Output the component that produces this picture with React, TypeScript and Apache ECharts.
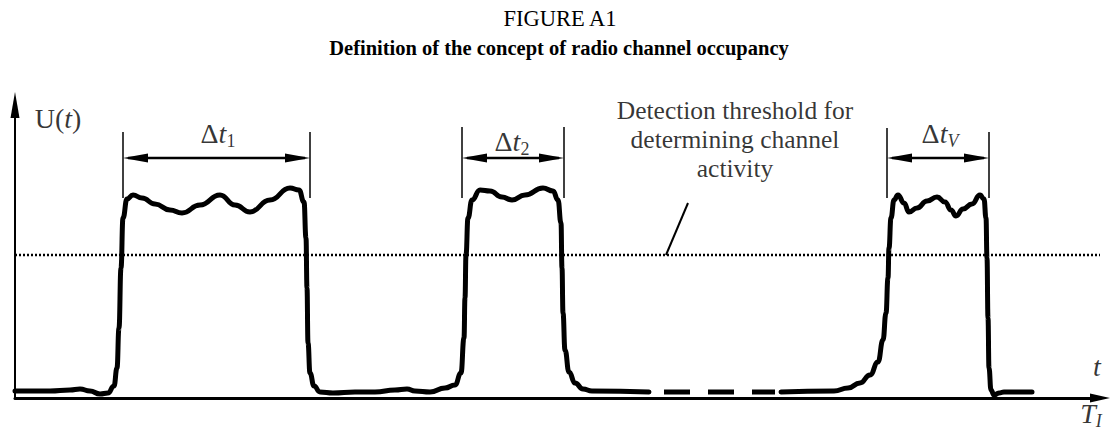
import React, { useEffect, useRef } from "react";
import * as echarts from "echarts";

const SERIF = "Liberation Serif, Times New Roman, serif";

// time (t) / amplitude U(t) samples of the received signal, arbitrary units
const signalBeforeGap: [number, number][] = [
  [0, 7], [35, 7], [55, 8], [65, 9], [75, 7], [85, 4], [93, 5], [99, 12], [102, 30],
  [104, 70], [106, 130], [108, 180], [112, 199], [118, 203], [127, 200], [140, 194],
  [155, 188], [167, 185], [185, 193], [205, 203], [220, 193], [235, 186], [255, 198],
  [275, 210], [284, 208], [289, 196], [291, 160], [292, 110], [293, 55], [295, 25],
  [299, 12], [305, 6], [318, 5], [340, 6], [360, 6], [380, 8], [392, 9], [400, 7],
  [415, 6], [430, 10], [440, 13], [446, 25], [449, 60], [450, 100], [451, 143],
  [453, 180], [457, 198], [465, 208], [475, 207], [487, 201], [497, 198], [510, 203],
  [528, 210], [538, 207], [543, 198], [546, 175], [547, 130], [548, 85], [550, 48],
  [554, 26], [560, 15], [568, 9], [577, 7], [634, 6],
];
const signalGap: [number, number][] = [[649, 6], [760, 6]];
const signalAfterGap: [number, number][] = [
  [766, 6], [819, 7], [833, 10], [845, 15], [855, 23], [863, 36], [868, 58], [871, 85],
  [873, 120], [874, 150], [876, 180], [879, 198], [883, 203], [889, 195], [894, 186],
  [902, 190], [912, 197], [922, 201], [930, 196], [936, 188], [941, 182], [948, 189],
  [957, 194], [965, 203], [969, 199], [971, 180], [972, 140], [973, 80], [974, 30],
  [976, 8], [979, 3], [984, 5], [989, 6], [1017, 6],
];

const thresholdLevel = 143;
const thresholdSpan = [0, 1085];

// occupancy intervals Δt
const dimStart = [108, 447, 872];
const dimEnd = [295, 549, 974];
const dimLevel = 240;
const dimTopStart = [266, 271, 270];
const dimTopEnd = [266, 271, 266];
const dimFoot = 200;
const dimSubscripts = ["{s|1}", "{s|2}", "{si|V}"];
const dimLabelT = [203, 497, 925];
const dimLabelU = [265, 257, 265];

const leaderLine: [number, number][] = [[673, 195], [651, 143]];
const noteText = ["Detection threshold for", "determining channel", "activity"];
const notePos = [720, 259];

const xMax = 1085;
const yMax = 293;

export default function App() {
  const ref = useRef<HTMLDivElement>(null);
  useEffect(() => {
    document.body.style.margin = "0";
    if (!ref.current) return;
    const chart = echarts.init(ref.current, null, { renderer: "svg" });

    const rich = {
      n: { fontFamily: SERIF, fontSize: 28, lineHeight: 34, color: "#000" },
      i: { fontFamily: SERIF, fontSize: 28, lineHeight: 34, fontStyle: "italic", color: "#000" },
      s: { fontFamily: SERIF, fontSize: 18, lineHeight: 16, verticalAlign: "bottom", color: "#000" },
      si: { fontFamily: SERIF, fontSize: 18, lineHeight: 16, verticalAlign: "bottom", fontStyle: "italic", color: "#000" },
      c: { fontFamily: SERIF, fontSize: 25.5, lineHeight: 29, color: "#000", align: "center" },
    };

    const labelItems: any[] = [];
    dimLabelT.forEach((t, k) => {
      labelItems.push({ value: [t, dimLabelU[k]], label: { formatter: "{n|Δ}{i|t}" + dimSubscripts[k] } });
    });
    labelItems.push({ value: [43, 280], label: { formatter: "{n|U(}{i|t}{n|)}" } });
    labelItems.push({ value: [1082, 32], label: { formatter: "{i|t}" } });
    labelItems.push({ value: [1076, -15], label: { formatter: "{i|T}{si|I}" } });
    labelItems.push({
      value: notePos,
      label: { formatter: noteText.map((l) => "{c|" + l + "}").join("\n"), align: "center" },
    });

    const dimData = dimStart.map((s, k) => [s, dimEnd[k], dimLevel, dimTopStart[k], dimTopEnd[k], dimFoot]);

    const option: any = {
      animation: false,
      backgroundColor: "#fff",
      textStyle: { fontFamily: SERIF },
      graphic: [
        {
          type: "text", x: 560, y: 18.5, silent: true,
          style: { text: "FIGURE A1", fontFamily: SERIF, fontSize: 22.5, fill: "#000",
            align: "center", verticalAlign: "middle", textAlign: "center", textVerticalAlign: "middle" },
        },
        {
          type: "text", x: 559, y: 48, silent: true,
          style: { text: "Definition of the concept of radio channel occupancy", fontFamily: SERIF,
            fontSize: 20.5, fontWeight: "bold", fill: "#000",
            align: "center", verticalAlign: "middle", textAlign: "center", textVerticalAlign: "middle" },
        },
      ],
      grid: { left: 15, top: 105, width: xMax, height: yMax, containLabel: false, outerBoundsMode: "none" },
      xAxis: {
        type: "value", min: 0, max: xMax,
        axisLine: { show: true, onZero: true, symbol: ["none", "triangle"], symbolSize: [9, 20],
          lineStyle: { color: "#000", width: 3 } },
        axisTick: { show: false }, axisLabel: { show: false }, splitLine: { show: false },
      },
      yAxis: {
        type: "value", min: 0, max: yMax,
        axisLine: { show: true, symbol: ["none", "triangle"], symbolSize: [9, 26],
          lineStyle: { color: "#000", width: 2 } },
        axisTick: { show: false }, axisLabel: { show: false }, splitLine: { show: false },
      },
      series: [
        {
          type: "line", data: thresholdSpan.map((t) => [t, thresholdLevel]), symbol: "none", silent: true,
          lineStyle: { color: "#000", width: 2.5, type: [2, 2] }, z: 1,
        },
        {
          type: "line", data: leaderLine, symbol: "none", silent: true,
          lineStyle: { color: "#000", width: 2 }, z: 2,
        },
        {
          type: "line", data: signalBeforeGap, symbol: "none", silent: true, smooth: 0.5, smoothMonotone: "x",
          lineStyle: { color: "#000", width: 5, cap: "round", join: "round" }, z: 3,
        },
        {
          type: "line", data: signalGap, symbol: "none", silent: true,
          lineStyle: { color: "#000", width: 5, type: [26, 18], cap: "butt" }, z: 3,
        },
        {
          type: "line", data: signalAfterGap, symbol: "none", silent: true, smooth: 0.5, smoothMonotone: "x",
          lineStyle: { color: "#000", width: 5, cap: "round", join: "round" }, z: 3,
        },
        {
          type: "custom", silent: true, clip: false, data: dimData, z: 4,
          renderItem: (params: any, api: any) => {
            const x1 = api.value(0), x2 = api.value(1), lv = api.value(2);
            const top1 = api.value(3), top2 = api.value(4), foot = api.value(5);
            const p1 = api.coord([x1, lv]);
            const p2 = api.coord([x2, lv]);
            const a1 = api.coord([x1, top1]), b1 = api.coord([x1, foot]);
            const a2 = api.coord([x2, top2]), b2 = api.coord([x2, foot]);
            const L = 25, W = 9;
            const st = { stroke: "#000", lineWidth: 1.5 };
            return {
              type: "group",
              children: [
                { type: "line", shape: { x1: a1[0], y1: a1[1], x2: b1[0], y2: b1[1] }, style: st },
                { type: "line", shape: { x1: a2[0], y1: a2[1], x2: b2[0], y2: b2[1] }, style: st },
                { type: "line", shape: { x1: p1[0] + 5, y1: p1[1], x2: p2[0] - 5, y2: p2[1] },
                  style: { stroke: "#000", lineWidth: 2.5 } },
                { type: "polygon", shape: { points: [[p1[0], p1[1]], [p1[0] + L, p1[1] - W / 2], [p1[0] + L, p1[1] + W / 2]] },
                  style: { fill: "#000" } },
                { type: "polygon", shape: { points: [[p2[0], p2[1]], [p2[0] - L, p2[1] - W / 2], [p2[0] - L, p2[1] + W / 2]] },
                  style: { fill: "#000" } },
              ],
            };
          },
        },
        {
          type: "scatter", data: labelItems, symbolSize: 1, clip: false, silent: true, z: 5,
          itemStyle: { color: "rgba(0,0,0,0)" },
          label: { show: true, position: "inside", align: "center", verticalAlign: "middle",
            fontFamily: SERIF, color: "#000", rich },
        },
      ],
    };
    chart.setOption(option);
    return () => chart.dispose();
  }, []);
  return <div ref={ref} style={{ width: 1111, height: 448 }} />;
}
